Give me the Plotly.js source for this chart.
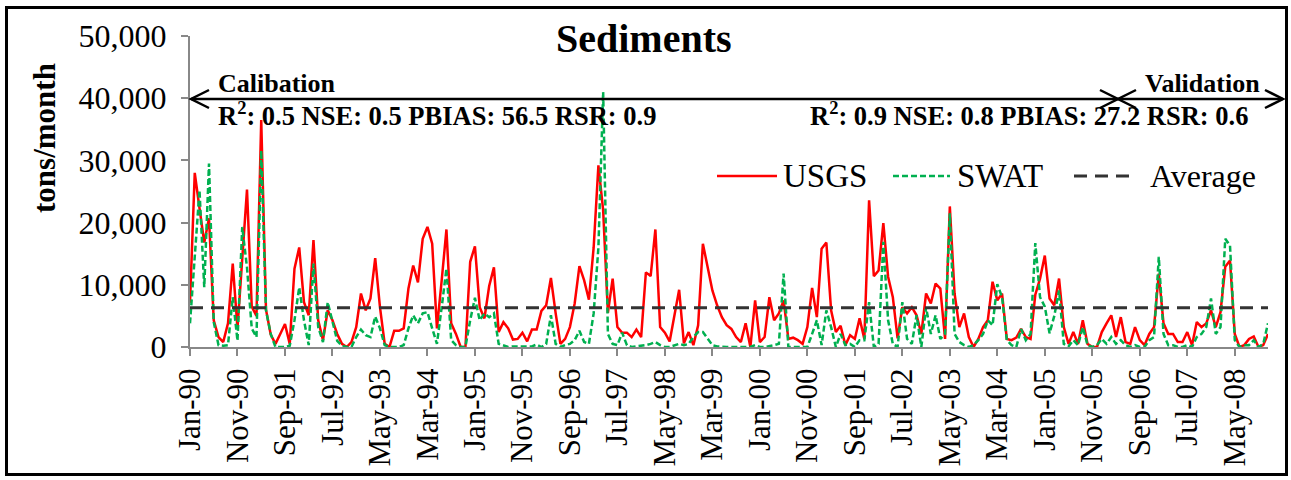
<!DOCTYPE html>
<html>
<head>
<meta charset="utf-8">
<script src="https://cdn.plot.ly/plotly-3.0.1.min.js"></script>
<style>
  html, body { margin: 0; padding: 0; background: #fff; }
  #chart { width: 1291px; height: 480px; position: absolute; left: 0; top: 0; }
  #frame { position: absolute; left: 5px; top: 6px; width: 1277px; height: 464px; border: 3px solid #000; pointer-events: none; }
</style>
</head>
<body>
<div id="chart"></div>
<div id="frame"></div>
<script>
// ---- Data (monthly, Jan-1990 .. Dec-2008) ----
const startYear = 1990;
const monthNames = ['Jan','Feb','Mar','Apr','May','Jun','Jul','Aug','Sep','Oct','Nov','Dec'];

const usgs = [
  7100, 28000, 22300, 16800, 20700, 4300, 1600, 800, 3800, 13400, 3000, 14000,
  25300, 6500, 5000, 36500, 6000, 2000, 500, 2100, 3700, 500, 12600, 16000,
  7200, 5100, 17200, 4300, 1100, 5900, 4300, 2100, 500, 0, 800, 3200,
  8600, 5900, 7800, 14300, 6400, 500, 0, 2600, 2600, 3000, 9400, 13100,
  10400, 17400, 19300, 16600, 3000, 10700, 18900, 3800, 2100, 0, 0, 13700,
  16200, 6400, 4600, 9800, 12800, 2400, 4000, 3000, 1200, 1300, 2300, 900,
  2800, 2800, 5800, 6700, 11100, 5400, 500, 1300, 3200, 7000, 13000, 10700,
  7600, 16000, 29200, 22000, 5500, 11000, 3200, 2300, 2300, 1600, 2800, 1600,
  12000, 11400, 18900, 3200, 2300, 900, 5100, 9200, 600, 2400, 300, 3500,
  16600, 12800, 9100, 6700, 4800, 3500, 2900, 1600, 800, 3800, 0, 7500,
  800, 1600, 8000, 4300, 5400, 7500, 1300, 1500, 1100, 500, 3200, 9500,
  4800, 15800, 16800, 5900, 2400, 3400, 300, 1900, 1300, 4600, 1300, 23600,
  11400, 12300, 19900, 11300, 8000, 1400, 6400, 5400, 6400, 5100, 2100, 8600,
  7000, 10200, 9400, 1300, 22600, 8600, 3200, 5400, 1600, 0, 1300, 3200,
  4300, 10500, 7500, 8600, 1300, 1100, 1500, 2900, 1600, 1300, 8400, 11000,
  14700, 7800, 6700, 11000, 3200, 500, 2400, 500, 4300, 500, 0, 0,
  2400, 3800, 5100, 1600, 4800, 800, 500, 3200, 1100, 300, 2100, 3200,
  11800, 3800, 2100, 2100, 800, 800, 2400, 300, 4000, 3200, 3800, 5900,
  3200, 5600, 12900, 13900, 2100, 0, 300, 1300, 1700, 0, 300, 2100
];

const swat = [
  3800, 15000, 25200, 9600, 29500, 4000, 300, 200, 300, 8000, 1000, 19300,
  12800, 3000, 1600, 31600, 5900, 2100, 0, 0, 0, 200, 4300, 9600,
  4300, 300, 13400, 3200, 800, 7200, 4300, 1000, 200, 0, 0, 1600,
  2800, 1900, 1600, 4900, 3000, 300, 0, 0, 0, 300, 3000, 5100,
  3800, 5400, 5600, 3000, 500, 6400, 12600, 1100, 300, 0, 0, 4300,
  7900, 4300, 5400, 4800, 5400, 500, 300, 0, 100, 100, 0, 0,
  100, 400, 0, 500, 5100, 500, 0, 300, 500, 1100, 2600, 800,
  500, 5400, 16000, 41000, 2100, 500, 300, 2300, 300, 0, 100, 100,
  300, 500, 800, 300, 0, 0, 300, 500, 300, 500, 1600, 2400,
  2400, 1300, 300, 100, 0, 0, 0, 0, 0, 100, 0, 300,
  0, 0, 100, 300, 500, 11800, 0, 0, 0, 0, 0, 2100,
  4300, 300, 5900, 3200, 0, 2100, 300, 500, 0, 1100, 1100, 7200,
  0, 500, 16900, 4300, 500, 0, 7200, 1300, 500, 5100, 0, 6400,
  2100, 5100, 1300, 2100, 21500, 2100, 800, 300, 0, 300, 1100, 2100,
  4300, 3500, 10100, 8000, 1100, 300, 0, 2900, 1100, 2100, 16700, 8000,
  6500, 2200, 5000, 9100, 500, 100, 1100, 300, 3200, 300, 0, 300,
  1300, 500, 1600, 500, 1100, 300, 0, 300, 0, 0, 1100, 1600,
  14500, 2100, 300, 300, 0, 0, 300, 0, 1600, 2100, 3200, 7800,
  2100, 3200, 17400, 16300, 1100, 0, 300, 300, 1100, 0, 500, 3800
];

const averageValue = 6300;
const seriesNames = ['USGS', 'SWAT', 'Average'];
const yTicks = [0, 10000, 20000, 30000, 40000, 50000];
const labelEvery = 10;

// month labels like "Jan-90"
const months = usgs.map((_, i) => {
  const y = startYear + Math.floor(i / 12);
  return monthNames[i % 12] + '-' + String(y).slice(2);
});
const tickVals = months.filter((_, i) => i % labelEvery === 0);

// ---- Layout helpers (pixel -> paper) ----
const L = 190, T = 36, W = 1078, H = 311;
const px = x => (x - L) / W;
const py = y => (T + H - y) / H;

const serif = 'Liberation Serif, Times New Roman, serif';
const red = '#FF0000', green = '#00B050', avgCol = '#333333';

const traces = [
  { x: months, y: usgs, type: 'scatter', mode: 'lines', name: seriesNames[0],
    line: { color: red, width: 2.5 } },
  { x: months, y: swat, type: 'scatter', mode: 'lines', name: seriesNames[1],
    line: { color: green, width: 2.5, dash: '6px,3px' } },
  { x: [months[0], months[months.length - 1]], y: [averageValue, averageValue],
    type: 'scatter', mode: 'lines', name: seriesNames[2],
    line: { color: avgCol, width: 3, dash: '13px,8px' } }
];

const arrowY = 99;
const shapes = [
  { type: 'line', xref: 'paper', yref: 'paper', x0: px(191), x1: px(1283), y0: py(arrowY), y1: py(arrowY),
    line: { color: '#000', width: 2.5 } },
  { type: 'path', xref: 'paper', yref: 'paper',
    path: `M ${px(209)} ${py(arrowY-9)} L ${px(191)} ${py(arrowY)} L ${px(209)} ${py(arrowY+9)}`,
    line: { color: '#000', width: 2.5 } },
  { type: 'path', xref: 'paper', yref: 'paper',
    path: `M ${px(1265)} ${py(arrowY-9)} L ${px(1283)} ${py(arrowY)} L ${px(1265)} ${py(arrowY+9)}`,
    line: { color: '#000', width: 2.5 } },
  { type: 'path', xref: 'paper', yref: 'paper',
    path: `M ${px(1100)} ${py(arrowY-9)} L ${px(1118)} ${py(arrowY)} L ${px(1100)} ${py(arrowY+9)}`,
    line: { color: '#000', width: 2.5 } },
  { type: 'path', xref: 'paper', yref: 'paper',
    path: `M ${px(1136)} ${py(arrowY-9)} L ${px(1118)} ${py(arrowY)} L ${px(1136)} ${py(arrowY+9)}`,
    line: { color: '#000', width: 2.5 } },
  // legend samples
  { type: 'line', xref: 'paper', yref: 'paper', x0: px(717), x1: px(777), y0: py(176), y1: py(176),
    line: { color: red, width: 2.5 } },
  { type: 'line', xref: 'paper', yref: 'paper', x0: px(893), x1: px(950), y0: py(176), y1: py(176),
    line: { color: green, width: 2.5, dash: '6px,3px' } },
  { type: 'line', xref: 'paper', yref: 'paper', x0: px(1074), x1: px(1130), y0: py(176), y1: py(176),
    line: { color: avgCol, width: 3, dash: '13px,8px' } }
];

const ann = (text, x, y, size, bold, anchor) => ({
  text: bold ? '<b>' + text + '</b>' : text,
  xref: 'paper', yref: 'paper', x: px(x), y: py(y),
  xanchor: anchor || 'left', yanchor: 'middle', showarrow: false,
  font: { family: serif, size: size, color: '#000' }
});

const annotations = [
  ann('Sediments', 644, 38, 40, true, 'center'),
  ann('Calibation', 216, 83, 26, true),
  ann('R<sup>2</sup>: 0.5 NSE: 0.5 PBIAS: 56.5 RSR: 0.9', 216, 114, 26.5, true),
  ann('Validation', 1143, 83, 26, true),
  ann('R<sup>2</sup>: 0.9 NSE: 0.8 PBIAS: 27.2 RSR: 0.6', 808, 114, 26.5, true),
  ann(seriesNames[0], 781, 176, 33, false),
  ann(seriesNames[1], 955, 176, 33, false),
  ann(seriesNames[2], 1148, 176, 32, false),
  { text: '<b>tons/month</b>', xref: 'paper', yref: 'paper', x: px(44), y: py(138),
    xanchor: 'center', yanchor: 'middle', textangle: -90, showarrow: false,
    font: { family: serif, size: 31, color: '#000' } }
];

const layout = {
  width: 1291, height: 480,
  margin: { l: L, r: 1291 - L - W, t: T, b: 480 - T - H, pad: 0 },
  paper_bgcolor: '#fff', plot_bgcolor: '#fff',
  showlegend: false, hovermode: false,
  font: { family: serif, color: '#000' },
  xaxis: {
    type: 'category', range: [0, months.length - 1],
    tickmode: 'array', tickvals: tickVals, ticktext: tickVals,
    tickangle: -90, ticks: 'outside', ticklen: 7, tickwidth: 2, tickcolor: '#888',
    showline: true, linecolor: '#888', linewidth: 2,
    showgrid: false, zeroline: false,
    tickfont: { family: serif, size: 31, color: '#000' }
  },
  yaxis: {
    range: [0, 50000], tickmode: 'array', tickvals: yTicks,
    tickformat: ',d', ticks: 'outside', ticklen: 7, tickwidth: 2, tickcolor: '#888',
    showline: true, linecolor: '#888', linewidth: 2,
    showgrid: false, zeroline: false,
    tickfont: { family: serif, size: 32, color: '#000' },
    ticklabelstandoff: 8
  },
  shapes: shapes,
  annotations: annotations
};

Plotly.newPlot('chart', traces, layout, { staticPlot: true, displayModeBar: false });
</script>
</body>
</html>
